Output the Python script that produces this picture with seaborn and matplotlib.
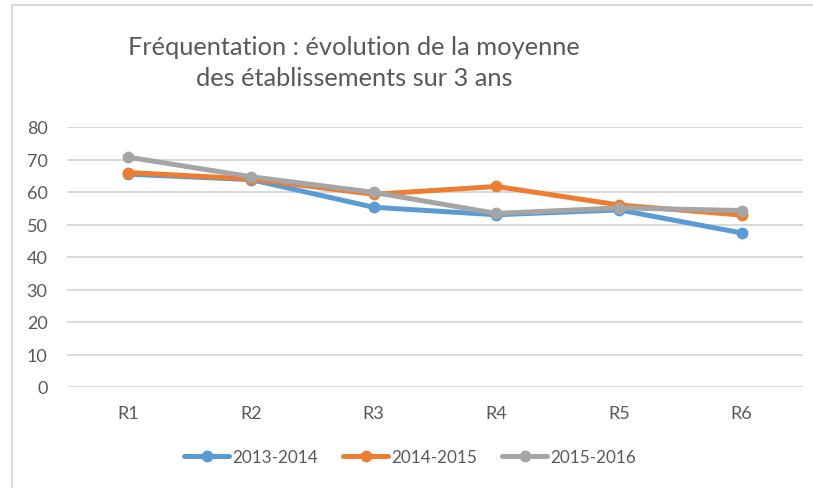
import matplotlib
matplotlib.use("Agg")
import matplotlib.pyplot as plt
import seaborn as sns
import pandas as pd
from matplotlib.lines import Line2D

categories = ["R1", "R2", "R3", "R4", "R5", "R6"]
s2013 = [65.5, 63.8, 55.3, 53.0, 54.5, 47.4]
s2014 = [66.0, 64.0, 59.3, 61.7, 56.0, 52.9]
s2015 = [70.7, 64.7, 59.9, 53.4, 55.1, 54.3]
series_names = ["2013-2014", "2014-2015", "2015-2016"]
colors = ["#5B9BD5", "#ED7D31", "#A5A5A5"]
title = "Fréquentation : évolution de la moyenne\ndes établissements sur 3 ans"

sns.set_theme(style="white")
plt.rcParams["font.family"] = ["Lato", "DejaVu Sans"]
txt = "#595959"

W, H = 813, 489
fig = plt.figure(figsize=(W / 100, H / 100), dpi=100)
ax = fig.add_axes([67 / W, (H - 388) / H, (803 - 67) / W, (388 - 128) / H])

df = pd.DataFrame({"cat": categories * 3,
                   "val": s2013 + s2014 + s2015,
                   "serie": sum([[n] * len(categories) for n in series_names], [])})

for name, col in zip(series_names, colors):
    sub = df[df["serie"] == name]
    sns.lineplot(data=sub, x="cat", y="val", ax=ax, color=col, marker="o",
                 markersize=8.5, markeredgewidth=0, linewidth=3.6, label=name,
                 sort=False)

ax.set_ylim(0, 80)
ax.set_xlim(-0.5, 5.5)
ax.set_yticks(range(0, 81, 10))
ax.yaxis.grid(True, color="#D9D9D9", linewidth=1.4)
ax.set_axisbelow(True)
for s in ax.spines.values():
    s.set_visible(False)
ax.set_xlabel("")
ax.set_ylabel("")
ax.tick_params(axis="both", length=0, labelsize=13, labelcolor=txt)
ax.tick_params(axis="y", pad=14)
ax.tick_params(axis="x", pad=13)

fig.text(354 / W, 1 - 63 / H, title, ha="center", va="center", fontsize=18.3,
         color=txt, linespacing=1.42)

handles = [Line2D([0], [0], color=c, lw=3.6, marker="o", markersize=8.5,
                  markeredgewidth=0) for c in colors]
ax.legend_.remove()
fig.legend(handles, series_names, loc="center", bbox_to_anchor=(410 / W, 1 - 458 / H),
           ncol=3, frameon=False, fontsize=12.3, labelcolor=txt,
           handlelength=2.65, handletextpad=0.18, columnspacing=1.45)

# partial chart frame (top and left edges)
fig.add_artist(Line2D([12 / W, 12 / W], [0, 1 - 6 / H], transform=fig.transFigure,
                      color="#D9D9D9", lw=1.5))
fig.add_artist(Line2D([12 / W, 1], [1 - 6 / H, 1 - 6 / H], transform=fig.transFigure,
                      color="#D9D9D9", lw=1.5))

fig.savefig("out.png", dpi=100, facecolor="white")
